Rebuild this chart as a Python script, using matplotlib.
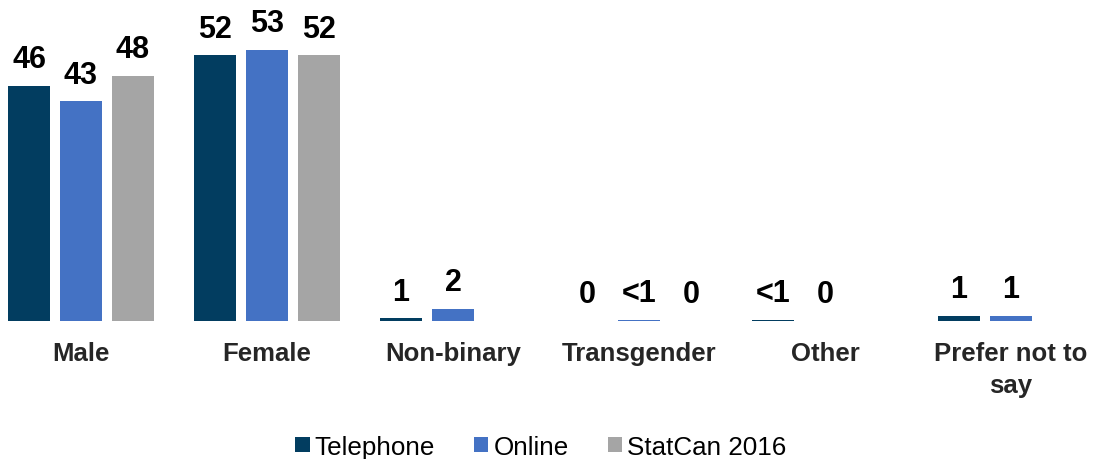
import numpy as np
import matplotlib
matplotlib.use("Agg")
import matplotlib.pyplot as plt
from matplotlib.patches import Patch

categories = ["Male", "Female", "Non-binary", "Transgender", "Other", "Prefer not to\nsay"]
series_names = ["Telephone", "Online", "StatCan 2016"]
telephone = [46, 52, 0.5, 0, 0.2, 1]
online = [43, 53, 2.3, 0.2, 0, 1]
statcan = [48, 52, np.nan, 0, np.nan, np.nan]
telephone_labels = ["46", "52", "1", "0", "<1", "1"]
online_labels = ["43", "53", "2", "<1", "0", "1"]
statcan_labels = ["48", "52", "", "0", "", ""]

colors = ["#023D60", "#4472C4", "#A5A5A5"]

plt.rcParams['font.family'] = ['Liberation Sans', 'DejaVu Sans']

fig = plt.figure(figsize=(10.95, 4.6), dpi=100)
ax = fig.add_axes([0, 138 / 460, 1, 322 / 460])

pitch = 186.0
x = np.arange(len(categories))
width = 42 / pitch
offset = 52 / pitch

series = [telephone, online, statcan]
labels = [telephone_labels, online_labels, statcan_labels]
for k, (vals, labs) in enumerate(zip(series, labels)):
    xs = x + (k - 1) * offset
    ax.bar(xs, vals, width=width, color=colors[k], label=series_names[k])
    for xi, v, lab in zip(xs, vals, labs):
        if lab == "":
            continue
        h = 0 if np.isnan(v) else v
        ax.annotate(lab, (xi, h), xytext=(0, 8.5), textcoords='offset points',
                    ha='center', va='bottom', fontsize=22, fontweight='bold',
                    color='black')

for xi, cat in zip(x, categories):
    ax.annotate(cat, (xi, 0), xytext=(0, -14.5), textcoords='offset points',
                ha='center', va='top', fontsize=18.5, fontweight='bold',
                color='#262626', linespacing=1.4)

ax.set_xlim(-81 / pitch, (1095 - 81) / pitch)
ax.set_ylim(0, 322 / 5.109)
ax.axis('off')

handles = [Patch(facecolor=c, edgecolor='none') for c in colors]
fig.legend(handles, series_names, loc='center', bbox_to_anchor=(0.494, 0.027),
           ncol=3, frameon=False, fontsize=18.7, handlelength=0.55, handleheight=0.55,
           handletextpad=0.2, columnspacing=1.5, borderpad=0)

fig.savefig("out.png", dpi=100)
